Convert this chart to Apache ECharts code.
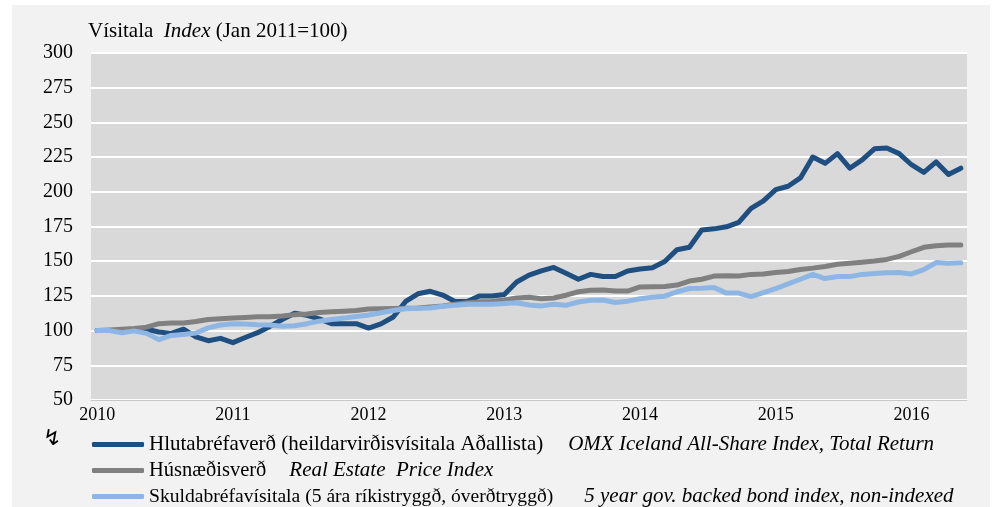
<!DOCTYPE html>
<html>
<head>
<meta charset="utf-8">
<script src="https://cdn.jsdelivr.net/npm/echarts@6/dist/echarts.min.js"></script>
<style>
html,body{margin:0;padding:0;background:#ffffff;}
#chart{width:1000px;height:507px;}
</style>
</head>
<body>
<div id="chart"></div>
<script>
// Tick labels shown on the x axis (every 11th category)
const yearLabels = ['2010', '2011', '2012', '2013', '2014', '2015', '2016'];

// Series values (index, Jan 2011 = 100)
const equity = [100, 100, 100, 100.5, 101, 99, 98, 101, 95.5, 92.7, 94.4, 91.3,
  95, 98.5, 103, 108, 112.5, 111, 108.5, 105, 105, 105, 101.8, 104.8,
  109.8, 121, 126.5, 128.3, 125.6, 121, 121, 125, 125, 126, 135, 140,
  143, 145.5, 141.3, 137, 140.5, 139, 139, 143, 144.4, 145.3, 149.8, 158.3,
  160, 172.5, 173.3, 174.8, 178, 188, 193.4, 201.5, 204, 210, 225, 220.5,
  227.5, 217, 223, 231, 231.5, 227.5, 219.5, 214, 221.5, 212.5, 217];

const realEstate = [100, 100.5, 101, 101.5, 102.5, 105, 105.5, 105.5, 106.5, 108, 108.5, 109,
  109.5, 110, 110, 110.5, 111.5, 112, 113, 113.5, 114, 114.5, 115.5, 115.8,
  116, 116.1, 116.3, 117, 117.7, 119, 120, 120.7, 121, 122, 123.5, 124,
  123, 123.5, 125.5, 128, 129, 129.2, 128.5, 128.5, 131.5, 131.6, 131.7, 132.8,
  135.7, 137, 139.3, 139.6, 139.4, 140.5, 140.8, 141.8, 142.6, 144, 145, 146.2,
  147.8, 148.5, 149.3, 150.2, 151.3, 153.5, 156.8, 160, 161.2, 161.6, 161.7];

const bonds = [100, 100, 98.5, 99.8, 98, 93.5, 96.5, 97.2, 98.3, 102, 104, 105,
  104.8, 104.3, 104, 103.2, 103.5, 105, 106.8, 108, 109, 110.2, 111.2, 112.8,
  114.5, 115.7, 116.1, 116.3, 117.5, 118.2, 119, 119, 119, 119.5, 120, 118.5,
  117.8, 119, 118.2, 120.6, 121.8, 122, 120.2, 121.2, 123, 124, 124.8, 128,
  130.3, 130.5, 131, 127, 127, 124.5, 127.3, 130.3, 133.6, 137, 140.5, 137.5,
  139, 138.9, 140.5, 141.2, 141.7, 141.8, 140.8, 144, 149, 148.5, 148.8];

const seriesNames = [
  'Hlutabréfaverð (heildarvirðisvísitala Aðallista)',
  'Húsnæðisverð',
  'Skuldabréfavísitala (5 ára ríkistryggð, óverðtryggð)'
];
const seriesEnglish = [
  'OMX Iceland All-Share Index, Total Return',
  'Real Estate  Price Index',
  '5 year gov. backed bond index, non-indexed'
];

// category axis: one category per observation, year label every 11th
const categories = equity.map((v, i) => (i % 11 === 0 ? yearLabels[i / 11] : 'c' + i));

const FONT = '"Liberation Serif", "Times New Roman", serif';
const colors = ['#1F4E80', '#808080', '#8DB6E4'];

const chart = echarts.init(document.getElementById('chart'), null, {renderer: 'canvas'});

const engPad = [25, 23, 31];
const islSize = [21, 20.5, 19.6];
const legendTops = [429, 455, 481];

const legends = seriesNames.map(function (name, k) {
  return {
    orient: 'horizontal',
    left: 87, top: legendTops[k],
    itemWidth: 52, itemHeight: 5,
    icon: 'roundRect',
    data: [name],
    formatter: function (n) {
      return '{a|' + n + '}{b|' + seriesEnglish[k] + '}';
    },
    textStyle: {
      fontFamily: FONT, fontSize: 20, color: '#000',
      rich: {
        a: {fontFamily: FONT, fontSize: islSize[k], color: '#000'},
        b: {fontFamily: FONT, fontSize: 21, fontStyle: 'italic', color: '#000', padding: [0, 0, 0, engPad[k]]}
      }
    }
  };
});

chart.setOption({
  backgroundColor: '#ffffff',
  animation: false,
  graphic: [
    {type: 'rect', z: -10, shape: {x: 12, y: 5, width: 978, height: 502}, style: {fill: '#F2F2F2'}},
    {type: 'text', left: 43, top: 428, style: {text: '↯', font: '22px "DejaVu Sans"', fill: '#000'}}
  ],
  title: {
    text: '{n|Vísitala  }{i|Index}{n| (Jan 2011=100)}',
    left: 83, top: 16,
    textStyle: {
      fontWeight: 'normal',
      rich: {
        n: {fontFamily: FONT, fontSize: 21, fontWeight: 'normal', color: '#000'},
        i: {fontFamily: FONT, fontSize: 21, fontWeight: 'normal', fontStyle: 'italic', color: '#000'}
      }
    }
  },
  grid: {
    left: 91, right: 33, top: 53, bottom: 107,
    show: true, backgroundColor: '#D9D9D9', borderWidth: 0
  },
  legend: legends,
  xAxis: {
    type: 'category',
    data: categories,
    boundaryGap: true,
    axisLine: {show: true, lineStyle: {color: '#C8C8C8', width: 1}},
    axisTick: {show: false},
    axisLabel: {interval: 10, margin: 6, fontFamily: FONT, fontSize: 18, color: '#000'},
    splitLine: {show: false}
  },
  yAxis: {
    type: 'value',
    min: 50, max: 300, interval: 25,
    axisLine: {show: false},
    axisTick: {show: false},
    axisLabel: {margin: 18, fontFamily: FONT, fontSize: 20, color: '#000'},
    splitLine: {show: true, lineStyle: {color: '#ffffff', width: 2}}
  },
  series: [
    {name: seriesNames[0], type: 'line', data: equity, symbol: 'none', color: colors[0],
      lineStyle: {width: 5, color: colors[0], join: 'round', cap: 'round'}},
    {name: seriesNames[1], type: 'line', data: realEstate, symbol: 'none', color: colors[1],
      lineStyle: {width: 5, color: colors[1], join: 'round', cap: 'round'}},
    {name: seriesNames[2], type: 'line', data: bonds, symbol: 'none', color: colors[2],
      lineStyle: {width: 5, color: colors[2], join: 'round', cap: 'round'}}
  ]
});
</script>
</body>
</html>
